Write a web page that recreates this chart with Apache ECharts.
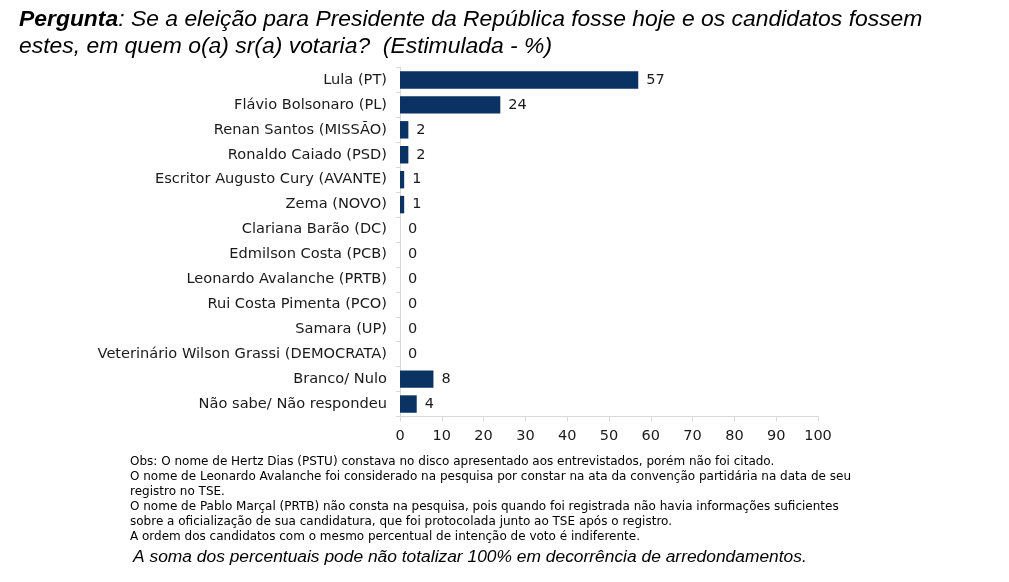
<!DOCTYPE html>
<html>
<head>
<meta charset="utf-8">
<style>
  html, body { margin: 0; padding: 0; background: #fff; }
  #chart { width: 1009px; height: 582px; }
</style>
</head>
<body>
<div id="chart"></div>
<script src="https://cdn.jsdelivr.net/npm/echarts@6/dist/echarts.min.js"></script>
<script>
  const chart = echarts.init(document.getElementById('chart'));

  // candidatos (de cima para baixo)
  const candidatos = [
    'Lula (PT)', 'Flávio Bolsonaro (PL)', 'Renan Santos (MISSÃO)', 'Ronaldo Caiado (PSD)',
    'Escritor Augusto Cury (AVANTE)', 'Zema (NOVO)', 'Clariana Barão (DC)', 'Edmilson Costa (PCB)',
    'Leonardo Avalanche (PRTB)', 'Rui Costa Pimenta (PCO)', 'Samara (UP)',
    'Veterinário Wilson Grassi (DEMOCRATA)', 'Branco/ Nulo', 'Não sabe/ Não respondeu'
  ];
  const percentuais = [57, 24, 2, 2, 1, 1, 0, 0, 0, 0, 0, 0, 8, 4];

  const notas = [
    'Obs: O nome de Hertz Dias (PSTU) constava no disco apresentado aos entrevistados, porém não foi citado.',
    'O nome de Leonardo Avalanche foi considerado na pesquisa por constar na ata da convenção partidária na data de seu',
    'registro no TSE.',
    'O nome de Pablo Marçal (PRTB) não consta na pesquisa, pois quando foi registrada não havia informações suficientes',
    'sobre a oficialização de sua candidatura, que foi protocolada junto ao TSE após o registro.',
    'A ordem dos candidatos com o mesmo percentual de intenção de voto é indiferente.'
  ];

  const option = {
    animation: false,
    textStyle: { fontFamily: 'DejaVu Sans' },
    title: {
      left: 14,
      top: 1,
      text: '{b|Pergunta}: Se a eleição para Presidente da República fosse hoje e os candidatos fossem\nestes, em quem o(a) sr(a) votaria?  (Estimulada - %)',
      textStyle: {
        fontFamily: 'Liberation Sans',
        fontStyle: 'italic',
        fontWeight: 'normal',
        fontSize: 22.9,
        lineHeight: 27,
        color: '#000',
        rich: {
          b: { fontFamily: 'Liberation Sans', fontStyle: 'italic', fontWeight: 'bold', fontSize: 22.9, color: '#000' }
        }
      }
    },
    grid: { left: 400, right: 191, top: 67.5, bottom: 165.5, containLabel: false },
    xAxis: {
      type: 'value',
      min: 0,
      max: 100,
      interval: 10,
      splitLine: { show: false },
      axisLine: { show: true, lineStyle: { color: '#d9d9d9' } },
      axisTick: { show: true, length: 5, lineStyle: { color: '#d9d9d9' } },
      axisLabel: { fontSize: 14.5, color: '#1a1a1a', margin: 12, fontFamily: 'DejaVu Sans' }
    },
    yAxis: {
      type: 'category',
      inverse: true,
      data: candidatos,
      axisLine: { show: true, lineStyle: { color: '#d9d9d9' } },
      axisTick: { show: true, length: 4, lineStyle: { color: '#d9d9d9' } },
      axisLabel: { fontSize: 14.6, color: '#1a1a1a', margin: 13, fontFamily: 'DejaVu Sans' }
    },
    series: [{
      type: 'bar',
      data: percentuais,
      barWidth: '70%',
      itemStyle: { color: '#0a3263' },
      label: {
        show: true,
        position: 'right',
        distance: 8,
        fontSize: 14.5,
        color: '#1a1a1a',
        fontFamily: 'DejaVu Sans'
      }
    }],
    graphic: [
      {
        type: 'text',
        left: 130,
        top: 454,
        style: {
          text: notas.join('\n'),
          fontFamily: 'DejaVu Sans',
          fontSize: 12,
          lineHeight: 15,
          fill: '#000'
        }
      },
      {
        type: 'text',
        left: 133,
        top: 549,
        style: {
          text: 'A soma dos percentuais pode não totalizar 100% em decorrência de arredondamentos.',
          fontFamily: 'Liberation Sans',
          fontStyle: 'italic',
          fontSize: 17.4,
          fill: '#000'
        }
      }
    ]
  };

  chart.setOption(option);
</script>
</body>
</html>
